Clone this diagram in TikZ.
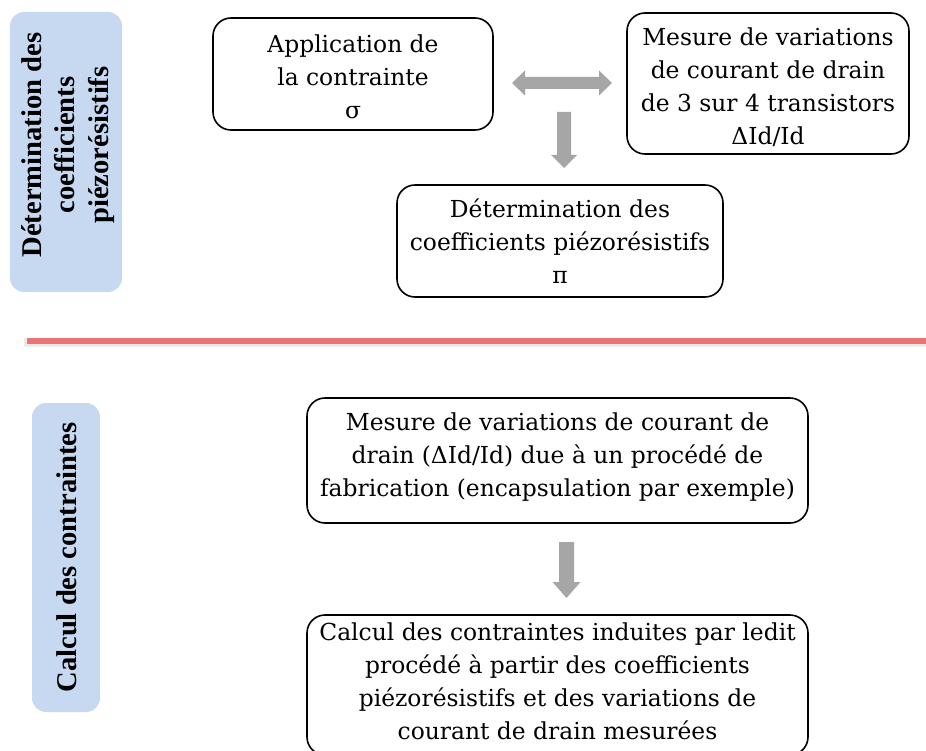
\documentclass[tikz,border=0pt]{standalone}
\usepackage{fontspec}
\setmainfont{DejaVu Serif}
\newfontfamily\lblfont{Liberation Serif}
\definecolor{lblue}{HTML}{C6D9F1}
\definecolor{redline}{HTML}{EC7373}
\definecolor{arrgray}{HTML}{A6A6A6}
\tikzset{
  stepbox/.style={draw=black, line width=1.6pt, rounded corners=18pt, inner sep=0pt},
  steptext/.style={align=center, font=\fontsize{23.4}{33}\selectfont, inner sep=0pt},
  lblbox/.style={fill=lblue, rounded corners=14pt, inner sep=0pt},
  lbltext/.style={align=center, rotate=90, inner sep=0pt,
    font=\lblfont\bfseries\fontsize{28.6}{33.5}\selectfont},
  blockarrow/.style={fill=arrgray, draw=none}
}
\begin{document}
\begin{tikzpicture}[x=1pt,y=-1pt]
\useasboundingbox (0,0) rectangle (926,751);
\begin{scope}
\clip (0,0) rectangle (926,751);
% side labels
\node[lblbox, minimum width=112pt, minimum height=280pt] (l1) at (66,152) {};
\node[lbltext] (l1t) at (68,145)
  {Détermination des\\coefficients\\piézorésistifs};
\node[lblbox, minimum width=68pt, minimum height=309pt] (l2) at (66,557.5) {};
\node[lbltext] (l2t) at (67,557.5) {Calcul des contraintes};
% separator
\draw[line width=9pt, black!8] (24,342) -- (926,342);
\draw[line width=6pt, redline] (27,341) -- (926,341);
% boxes
\node[stepbox, minimum width=280pt, minimum height=112pt] (b1) at (353,74) {};
\node[steptext] (b1t) at (353,77) {Application de\\la contrainte\\σ};
\node[stepbox, minimum width=282pt, minimum height=141pt] (b2) at (768,83.5) {};
\node[steptext] (b2t) at (768,87.5)
  {Mesure de variations\\de courant de drain\\de 3 sur 4 transistors\\ΔId/Id};
\node[stepbox, minimum width=326pt, minimum height=112pt] (b3) at (560,241) {};
\node[steptext] (b3t) at (560,241) {Détermination des\\coefficients piézorésistifs\\π};
\node[stepbox, minimum width=501pt, minimum height=125pt] (b4) at (557.5,460.5) {};
\node[steptext] (b4t) at (557.5,457.5)
  {Mesure de variations de courant de\\drain (ΔId/Id) due à un procédé de\\fabrication (encapsulation par exemple)};
\node[stepbox, minimum width=501pt, minimum height=140pt] (b5) at (557.5,685) {};
\node[steptext] (b5t) at (557.5,681.5)
  {Calcul des contraintes induites par ledit\\procédé à partir des coefficients\\piézorésistifs et des variations de\\courant de drain mesurées};
% block arrows
\fill[blockarrow] (512,83) -- (525,70.5) -- (525,77) -- (599,77) -- (599,70.5) -- (612,83)
  -- (599,95.5) -- (599,89) -- (525,89) -- (525,95.5) -- cycle;
\fill[blockarrow] (557,112) -- (571,112) -- (571,155) -- (577,155) -- (564,168)
  -- (551,155) -- (557,155) -- cycle;
\fill[blockarrow] (559,542) -- (574,542) -- (574,582) -- (580.5,582) -- (566.5,598)
  -- (552.5,582) -- (559,582) -- cycle;
\end{scope}
\end{tikzpicture}
\end{document}
